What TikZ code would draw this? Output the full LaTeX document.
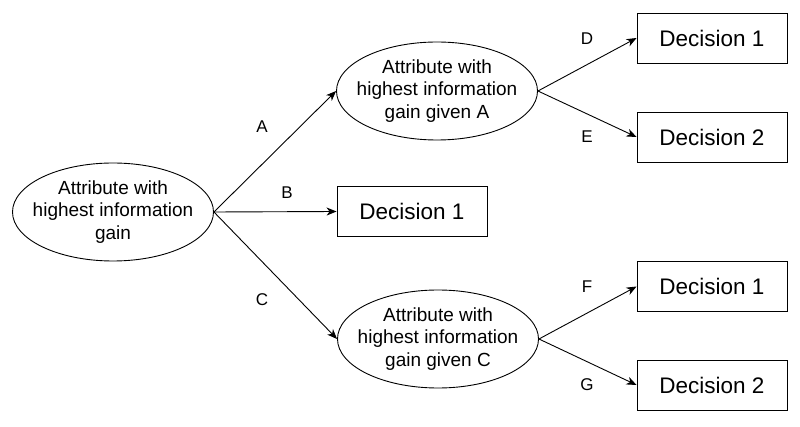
\documentclass[tikz,border=0pt]{standalone}
\usepackage{fontspec}
\setmainfont{Liberation Sans}
\usetikzlibrary{shapes.geometric,arrows.meta}
\begin{document}
\begin{tikzpicture}[x=1pt,y=-1pt,
  attr/.style={draw, ellipse, line width=0.9pt, minimum width=201pt, minimum height=98pt, inner sep=0pt},
  attrtext/.style={inner sep=0pt, align=center, font=\fontsize{19}{22.5}\selectfont},
  dec/.style={draw, rectangle, line width=0.9pt, minimum width=150pt, minimum height=50pt, inner sep=0pt, font=\fontsize{22.5}{26}\selectfont},
  lab/.style={inner sep=0pt, font=\fontsize{17}{18}\selectfont},
  conn/.style={line width=0.9pt, -{Stealth[length=10pt, width=8pt, inset=3pt]}}]
\useasboundingbox (0,0) rectangle (800,427);
\node[attr] (root) at (113,212) {};
\node[attrtext] (roott) at (root.center) {Attribute with\\highest information\\gain};
\node[attr] (na) at (437,91) {};
\node[attrtext] (nat) at (na.center) {Attribute with\\highest information\\gain given A};
\node[attr] (nc) at (438,339) {};
\node[attrtext] (nct) at (nc.center) {Attribute with\\highest information\\gain given C};
\node[dec] (b1) at (412,211.5) {Decision 1};
\node[dec] (d1) at (712,38) {Decision 1};
\node[dec] (e2) at (712,137) {Decision 2};
\node[dec] (f1) at (712,286.5) {Decision 1};
\node[dec] (g2) at (712,385) {Decision 2};
\draw[conn] (root.east) -- (na.west);
\draw[conn] (root.east) -- (b1.west);
\draw[conn] (root.east) -- (nc.west);
\draw[conn] (na.east) -- (d1.west);
\draw[conn] (na.east) -- (e2.west);
\draw[conn] (nc.east) -- (f1.west);
\draw[conn] (nc.east) -- (g2.west);
\node[lab] (la) at (262,127) {A};
\node[lab] (lb) at (287,193) {B};
\node[lab] (lc) at (262,300) {C};
\node[lab] (ld) at (587,39) {D};
\node[lab] (le) at (587,137) {E};
\node[lab] (lf) at (587,287) {F};
\node[lab] (lg) at (587,385) {G};
\end{tikzpicture}
\end{document}
